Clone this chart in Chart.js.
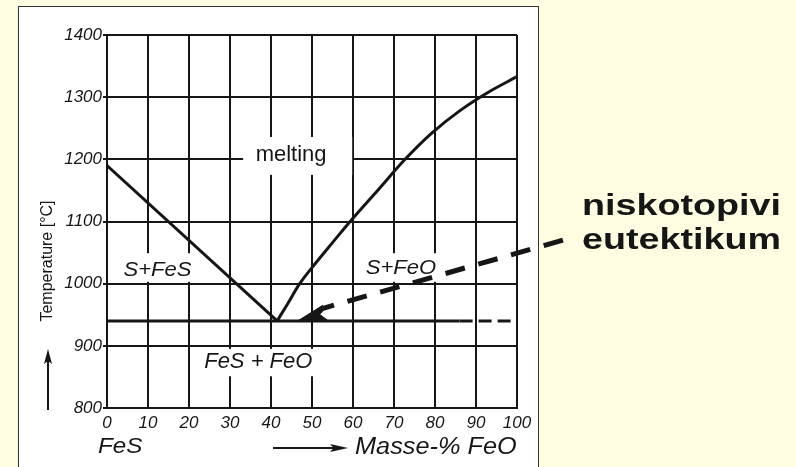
<!DOCTYPE html>
<html>
<head>
<meta charset="utf-8">
<script src="https://cdn.jsdelivr.net/npm/chart.js@4.4.1/dist/chart.umd.min.js"></script>
<style>
    body { margin: 0; background: #fffde1; }
    #panel { position: absolute; left: 18px; top: 6px; width: 519px; height: 460px; background: #fff; border: 1.5px solid #333; }
    #wrap { position: absolute; left: 0; top: 0; width: 796px; height: 467px; }
</style>
</head>
<body>
<div id="panel"></div>
<div id="wrap"><canvas id="c" width="796" height="467"></canvas></div>
<script>
// FeS - FeO phase diagram
var leftLiqX = [0, 41.5];
var leftLiqT = [1190, 940];
var rightLiqX = [41.5, 44, 47, 51, 55, 59.3, 66, 72.7, 79, 86, 93, 100];
var rightLiqT = [940, 967, 1000, 1034, 1066, 1100, 1150, 1200, 1241, 1278, 1308, 1333];
var eutecticX = [0, 86];
var eutecticDashX = [86, 100];
var eutecticT = 940;
var pointerX = [111.2, 52.5];
var pointerT = [1070, 960];
var pointerTip = [46.3, 940];
var xTicks = [0, 10, 20, 30, 40, 50, 60, 70, 80, 90, 100];
var yTicks = [800, 900, 1000, 1100, 1200, 1300, 1400];

var ink = '#161616';
var techFont = '"Liberation Sans", Arial, sans-serif';

function pts(xs, ys) {
    var out = [];
    xs.forEach(function (x, i) {
        out.push({ x: x, y: Array.isArray(ys) ? ys[i] : ys });
    });
    return out;
}

// phase labels: text, centre (x, T), box to blank the grid behind it
var phaseLabels = [
    { text: 'melting', x: 44.9, t: 1207, box: [33.2, 59.8, 1236, 1175], font: '22px "Liberation Sans", Arial, sans-serif', sx: 1 },
    { text: 'S+FeS', x: 12.3, t: 1022, box: [3.2, 21.5, 1049, 1003], font: 'italic 21px ' + techFont, sx: 1.05 },
    { text: 'S+FeO', x: 71.7, t: 1025, box: [61.5, 81.3, 1049, 1003], font: 'italic 21px ' + techFont, sx: 1.05 },
    { text: 'FeS + FeO', x: 36.9, t: 874, box: [22.7, 51.5, 895, 851], font: 'italic 22px ' + techFont, sx: 1.0 }
];

function drawText(ctx, s, x, y, font, align, sx) {
    ctx.save();
    ctx.font = font;
    ctx.fillStyle = ink;
    ctx.textAlign = align || 'center';
    ctx.textBaseline = 'middle';
    ctx.translate(x, y);
    ctx.scale(sx || 1, 1);
    ctx.fillText(s, 0, 0);
    ctx.restore();
}

function arrowHead(ctx, tipX, tipY, ang, len, half) {
    ctx.save();
    ctx.translate(tipX, tipY);
    ctx.rotate(ang);
    ctx.beginPath();
    ctx.moveTo(0, 0);
    ctx.lineTo(-len, -half);
    ctx.lineTo(-len * 0.8, 0);
    ctx.lineTo(-len, half);
    ctx.closePath();
    ctx.fillStyle = ink;
    ctx.fill();
    ctx.restore();
}

var labelsPlugin = {
    id: 'phaseLabels',
    beforeDatasetsDraw: function (chart) {
        var ctx = chart.ctx;
        var xs = chart.scales.x, ys = chart.scales.y;
        phaseLabels.forEach(function (l) {
            var x0 = xs.getPixelForValue(l.box[0]), x1 = xs.getPixelForValue(l.box[1]);
            var y0 = ys.getPixelForValue(l.box[2]), y1 = ys.getPixelForValue(l.box[3]);
            ctx.fillStyle = '#fff';
            ctx.fillRect(x0, y0, x1 - x0, y1 - y0);
            drawText(ctx, l.text, xs.getPixelForValue(l.x), ys.getPixelForValue(l.t), l.font, 'center', l.sx);
        });
    },
    afterDatasetsDraw: function (chart) {
        var ctx = chart.ctx;
        var xs = chart.scales.x, ys = chart.scales.y;
        // head of the pointer
        var tx = xs.getPixelForValue(pointerTip[0]), ty = ys.getPixelForValue(pointerTip[1]);
        var fx = xs.getPixelForValue(pointerX[0]), fy = ys.getPixelForValue(pointerT[0]);
        var bx = xs.getPixelForValue(pointerX[1]), by = ys.getPixelForValue(pointerT[1]);
        var ang = Math.atan2(ty - fy, tx - fx);
        ctx.save();
        ctx.strokeStyle = ink;
        ctx.lineWidth = 5;
        ctx.beginPath();
        ctx.moveTo(bx, by);
        ctx.lineTo(tx - 20 * Math.cos(ang), ty - 20 * Math.sin(ang));
        ctx.stroke();
        ctx.restore();
        arrowHead(ctx, tx, ty, ang, 30, 8);

        // axis captions
        ctx.save();
        ctx.translate(48, 261);
        ctx.rotate(-Math.PI / 2);
        ctx.font = '16px "Liberation Sans", Arial, sans-serif';
        ctx.fillStyle = ink;
        ctx.textAlign = 'center';
        ctx.textBaseline = 'middle';
        ctx.fillText('Temperature [°C]', 0, 0);
        ctx.restore();
        ctx.save();
        ctx.strokeStyle = ink;
        ctx.lineWidth = 2;
        ctx.beginPath();
        ctx.moveTo(48, 410);
        ctx.lineTo(48, 360);
        ctx.stroke();
        ctx.restore();
        arrowHead(ctx, 48, 349, -Math.PI / 2, 15, 4);

        drawText(ctx, 'FeS', 98, 447, 'italic 22px ' + techFont, 'left', 1.1);
        ctx.save();
        ctx.strokeStyle = ink;
        ctx.lineWidth = 2;
        ctx.beginPath();
        ctx.moveTo(273, 448);
        ctx.lineTo(335, 448);
        ctx.stroke();
        ctx.restore();
        arrowHead(ctx, 348, 448, 0, 18, 4);
        drawText(ctx, 'Masse-% FeO', 355, 448, 'italic 23px ' + techFont, 'left', 1.1);

        // note on the right
        drawText(ctx, 'niskotopivi', 582, 207, 'bold 29px "Liberation Sans", Arial, sans-serif', 'left', 1.3);
        drawText(ctx, 'eutektikum', 582, 241, 'bold 29px "Liberation Sans", Arial, sans-serif', 'left', 1.3);
    }
};

var tickFont = { family: techFont, size: 17, style: 'italic' };

new Chart(document.getElementById('c'), {
    type: 'scatter',
    data: {
        datasets: [
            { data: pts(leftLiqX, leftLiqT), borderColor: ink, borderWidth: 3, showLine: true, pointRadius: 0 },
            { data: pts(rightLiqX, rightLiqT), borderColor: ink, borderWidth: 3, showLine: true, pointRadius: 0, cubicInterpolationMode: 'monotone' },
            { data: pts(eutecticX, eutecticT), borderColor: ink, borderWidth: 3, showLine: true, pointRadius: 0 },
            { data: pts(eutecticDashX, eutecticT), borderColor: ink, borderWidth: 3, showLine: true, pointRadius: 0, borderDash: [13, 6] },
            { data: pts(pointerX, pointerT), borderColor: ink, borderWidth: 5, showLine: true, pointRadius: 0, borderDash: [20, 14], clip: false }
        ]
    },
    options: {
        responsive: false,
        animation: false,
        events: [],
        layout: { padding: { left: 18, top: 35, right: 279, bottom: 0 } },
        plugins: { legend: { display: false }, tooltip: { enabled: false }, title: { display: false } },
        scales: {
            x: {
                type: 'linear',
                min: 0,
                max: 100,
                afterBuildTicks: function (scale) { scale.ticks = xTicks.map(function (v) { return { value: v }; }); },
                afterFit: function (scale) { scale.height = 59; },
                grid: { color: ink, lineWidth: 2, drawTicks: false },
                border: { color: ink, width: 2 },
                ticks: { color: ink, padding: 5, maxRotation: 0, font: tickFont, callback: function (v) { return String(v); } }
            },
            y: {
                type: 'linear',
                min: 800,
                max: 1400,
                afterBuildTicks: function (scale) { scale.ticks = yTicks.map(function (v) { return { value: v }; }); },
                afterFit: function (scale) { scale.width = 89; },
                grid: { color: ink, lineWidth: 2, tickLength: 4 },
                border: { color: ink, width: 2 },
                ticks: { color: ink, padding: 1, font: tickFont, callback: function (v) { return String(v); } }
            }
        }
    },
    plugins: [labelsPlugin]
});
</script>
</body>
</html>
